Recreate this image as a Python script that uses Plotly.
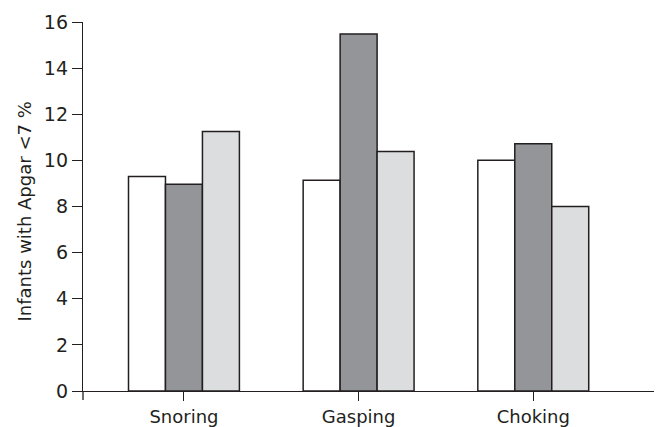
import plotly.graph_objects as go

categories = ["Snoring", "Gasping", "Choking"]
series_white = [9.30, 9.14, 10.01]
series_dark = [8.97, 15.48, 10.72]
series_light = [11.25, 10.39, 8.00]
y_ticks = [0, 2, 4, 6, 8, 10, 12, 14, 16]

line_col = "#231f20"
font_fam = "DejaVu Sans"

# page has an 8px body margin, so the figure is shifted by (8, 8)
OFF = 8
W, H = 662 - OFF, 427 - OFF
L, T, B = 83 - OFF, 22 - OFF, 36
plot_w = W - L
plot_h = H - T - B

fig = go.Figure()
for vals, col, name in [
    (series_white, "#ffffff", "A"),
    (series_dark, "#939598", "B"),
    (series_light, "#dcddde", "C"),
]:
    fig.add_trace(go.Bar(
        x=categories, y=vals, name=name,
        marker=dict(color=col, line=dict(color=line_col, width=1.5)),
    ))

fig.update_layout(
    width=W, height=H,
    margin=dict(l=L, r=0, t=T, b=B),
    paper_bgcolor="white", plot_bgcolor="white",
    showlegend=False,
    barmode="group", bargap=0.365, bargroupgap=0,
    font=dict(family=font_fam, size=18, color="#231f20"),
    xaxis=dict(
        type="category", range=[-0.578, 2.737],
        showline=True, linecolor=line_col, linewidth=1.3,
        ticks="outside", ticklen=9, tickwidth=1.3, tickcolor=line_col,
        showgrid=False, zeroline=False,
        tickfont=dict(family=font_fam, size=18),
    ),
    yaxis=dict(
        range=[0, 16], tickvals=y_ticks,
        showline=True, linecolor=line_col, linewidth=1.3,
        ticks="outside", ticklen=10, tickwidth=1.3, tickcolor=line_col,
        showgrid=False, zeroline=False,
        tickfont=dict(family=font_fam, size=19),
    ),
    shapes=[dict(type="line", xref="paper", yref="paper",
                 x0=0, x1=0, y0=0, y1=-9 / plot_h,
                 line=dict(color=line_col, width=1.3))],
    annotations=[dict(
        text="Infants with Apgar <7 %", textangle=-90,
        xref="paper", yref="paper",
        x=(24 - 83) / plot_w, y=(391 - 211.5) / plot_h,
        xanchor="center", yanchor="middle", showarrow=False,
        font=dict(family=font_fam, size=18, color="#231f20"),
    )],
)

fig.write_html("out.html")
